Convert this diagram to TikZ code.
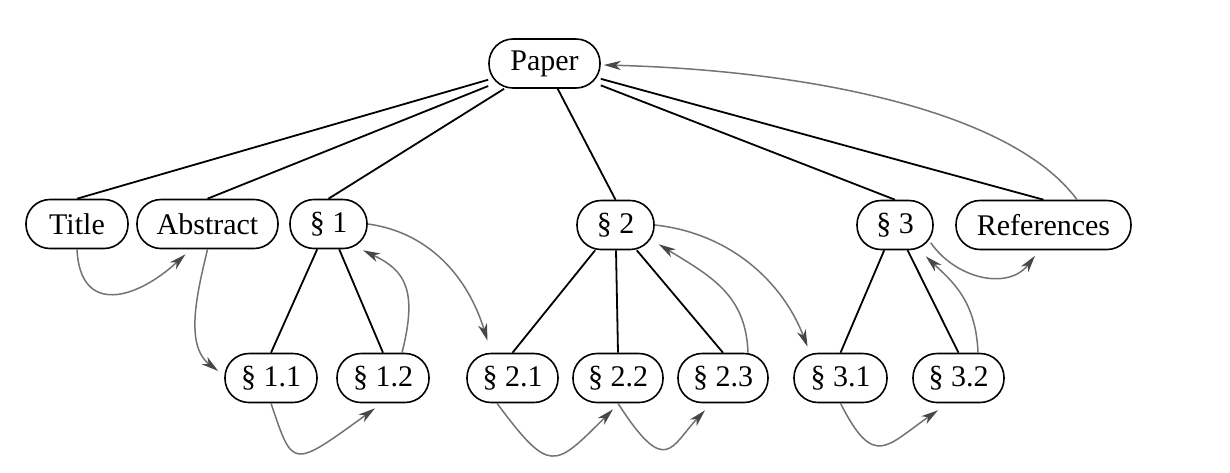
\documentclass[tikz,border=0pt]{standalone}
\usepackage{fontspec}
\setmainfont{Liberation Serif}
\usetikzlibrary{arrows.meta,calc}
\begin{document}
\begin{tikzpicture}[x=0.5pt,y=-0.5pt,
  nd/.style={draw, line width=0.8pt, rounded corners=12pt, minimum height=24.5pt,
    minimum width=#1, inner sep=0pt, font=\fontsize{15pt}{18pt}\selectfont},
  tree/.style={line width=0.9pt},
  arr/.style={draw=black!55, line width=0.75pt,
    -{Stealth[length=8.5pt,width=4.6pt,inset=2.5pt,color=black!72]}}]
\useasboundingbox (0,0) rectangle (1230,472);
% nodes
\node[nd=55.5pt] (paper) at (544.5,63.5) {Paper};
\node[nd=51pt] (title) at (77,224) {Title};
\node[nd=70.5pt] (abstract) at (207.5,224) {Abstract};
\node[nd=38.5pt] (s1) at (328.5,224) {§ 1};
\node[nd=38.5pt] (s2) at (615.5,225) {§ 2};
\node[nd=38pt] (s3) at (895,225) {§ 3};
\node[nd=87.5pt] (refs) at (1043.5,225) {References};
\node[nd=46pt] (s11) at (271,378) {§ 1.1};
\node[nd=46pt] (s12) at (383,378) {§ 1.2};
\node[nd=45.5pt] (s21) at (512.5,378) {§ 2.1};
\node[nd=45pt] (s22) at (618,378) {§ 2.2};
\node[nd=45pt] (s23) at (723,378) {§ 2.3};
\node[nd=46.5pt] (s31) at (840.5,378) {§ 3.1};
\node[nd=45.5pt] (s32) at (958.5,378) {§ 3.2};
% tree edges
\draw[tree] (paper) -- (title.north);
\draw[tree] (paper) -- (abstract.north);
\draw[tree] (paper) -- (s1.north);
\draw[tree] (paper) -- (s2.north);
\draw[tree] (paper) -- (s3.north);
\draw[tree] (paper) -- (refs.north);
\draw[tree] (s1) -- (s11.north);
\draw[tree] (s1) -- (s12.north);
\draw[tree] (s2) -- (s21.north);
\draw[tree] (s2) -- (s22.north);
\draw[tree] (s2) -- (s23.north);
\draw[tree] (s3) -- (s31.north);
\draw[tree] (s3) -- (s32.north);
% reading-order arrows
\draw[arr] (title.south) .. controls +(3,66) and +(-50,46) .. ($(abstract.south)+(-22,5)$);
\draw[arr] (abstract.south) .. controls +(-10,42) and +(-34,-26) .. ($(s11.west)+(-6,-7)$);
\draw[arr] (s11.south) .. controls +(22,65) and +(-84,61) .. ($(s12.south)+(-8,5)$);
\draw[arr] ($(s12.north)+(19,0)$) .. controls +(16,-63) and +(42,20) .. ($(s1.south)+(34.5,1)$);
\draw[arr] (s1.east) .. controls +(60,8) and +(-20,-65) .. ($(s21.north)+(-25,-12)$);
\draw[arr] ($(s21.south)+(-15.5,0)$) .. controls +(53,71) and +(-59,59) .. ($(s22.south)+(-5,6)$);
\draw[arr] (s22.south) .. controls +(48,75) and +(-34,36) .. ($(s23.south)+(-18,7)$);
\draw[arr] ($(s23.north)+(25,0)$) .. controls +(-2,-58) and +(52,32) .. ($(s2.south east)+(4,-6)$);
\draw[arr] (s2.east) .. controls +(75,8) and +(-25,-65) .. ($(s31.north)+(-33,-6)$);
\draw[arr] (s31.south) .. controls +(33.5,66) and +(-52,36) .. ($(s32.south)+(-20.5,7)$);
\draw[arr] ($(s32.north)+(19.5,0)$) .. controls +(-2,-53) and +(25,24) .. ($(s3.south east)+(-8,6)$);
\draw[arr] ($(s3.south east)+(-3,-7.5)$) .. controls +(25,36) and +(-27,35) .. ($(refs.south)+(-8.5,5.5)$);
\draw[arr] ($(refs.north)+(33.5,0)$) .. controls +(-67,-91) and +(197,5) .. ($(paper.east)+(3,1.5)$);
\end{tikzpicture}
\end{document}
